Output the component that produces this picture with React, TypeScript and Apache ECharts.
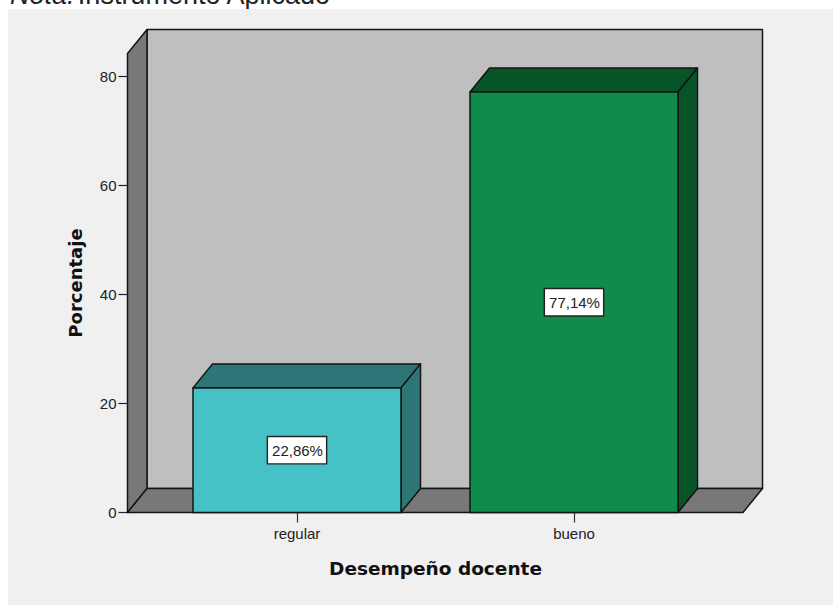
import React, { useEffect, useRef } from "react";
import * as echarts from "echarts";

const categories = ["regular", "bueno"];
const percentages = [22.86, 77.14];
const percentLabels = ["22,86%", "77,14%"];
const frontColors = ["#46c2c6", "#0f8c49"];
const shadeColors = ["#2e7578", "#075428"];
const yTicks = [0, 20, 40, 60, 80];

const DX = 19.5;
const DY = -24;
const LINE = "#141414";
const LW = 1.5;
const PAD_LEFT = 31;
const BAR_WIDTH = 208;

const poly = (points: number[][], fill: string) => ({
  type: "polygon",
  shape: { points },
  style: { fill, stroke: LINE, lineWidth: LW, lineJoin: "round" },
});

export default function App() {
  const ref = useRef<HTMLDivElement>(null);
  useEffect(() => {
    document.body.style.margin = "0";
    const chart = echarts.init(ref.current!, null, { renderer: "svg" });
    chart.setOption({
      animation: false,
      backgroundColor: "#ffffff",
      graphic: [
        {
          type: "text",
          x: 10,
          y: -19,
          z: -10,
          style: {
            text: "{i|Nota.} {r|Instrumento Aplicado}",
            rich: {
              i: { fontStyle: "italic", fontFamily: "Liberation Sans", fontSize: 27, fill: "#222" },
              r: { fontFamily: "Liberation Sans", fontSize: 27, fill: "#222" },
            },
          },
        },
        {
          type: "rect",
          z: -9,
          shape: { x: 8, y: 9, width: 825, height: 596 },
          style: { fill: "#f0f0f0" },
        },
      ],
      grid: { left: 158.5, top: 53.5, width: 554, height: 459 },
      xAxis: {
        type: "category",
        data: categories,
        axisLine: { show: false },
        axisTick: { show: true, alignWithLabel: true, length: 10, lineStyle: { color: "#333", width: 1.2 } },
        axisLabel: { color: "#222", fontFamily: "Liberation Sans", fontSize: 15, margin: 13 },
        name: "Desempeño docente",
        nameLocation: "middle",
        nameGap: 46.5,
        nameTextStyle: { fontFamily: "DejaVu Sans", fontWeight: "bold", fontSize: 18.5, color: "#111" },
      },
      yAxis: {
        type: "value",
        min: 0,
        max: 84.2,
        interval: 20,
        offset: PAD_LEFT,
        splitLine: { show: false },
        axisLine: { show: true, lineStyle: { color: LINE, width: LW } },
        axisTick: { show: true, length: 9, customValues: yTicks, lineStyle: { color: "#222", width: 1.2 } },
        axisLabel: {
          color: "#222",
          fontFamily: "Liberation Sans",
          fontSize: 15,
          margin: 11,
          customValues: yTicks,
        },
        name: "Porcentaje",
        nameLocation: "middle",
        nameGap: 43,
        nameTextStyle: { fontFamily: "DejaVu Sans", fontWeight: "bold", fontSize: 18, color: "#111" },
      },
      series: [
        {
          type: "custom",
          silent: true,
          z: 1,
          data: [0],
          clip: false,
          renderItem: (params: any) => {
            const c = params.coordSys;
            const l = c.x - PAD_LEFT;
            const r = c.x + c.width + PAD_LEFT - 0.5;
            const t = c.y;
            const b = c.y + c.height;
            return {
              type: "group",
              children: [
                poly([[l + DX, t + DY], [r + DX, t + DY], [r + DX, b + DY], [l + DX, b + DY]], "#bfbfbf"),
                poly([[l, t], [l + DX, t + DY], [l + DX, b + DY], [l, b]], "#787878"),
                poly([[l, b], [l + DX, b + DY], [r + DX, b + DY], [r, b]], "#787878"),
              ],
            };
          },
        },
        {
          type: "custom",
          silent: true,
          z: 2,
          clip: false,
          data: percentages.map((v, i) => [i, v]),
          encode: { x: 0, y: 1 },
          renderItem: (params: any, api: any) => {
            const i = api.value(0);
            const [cx, top] = api.coord([i, api.value(1)]);
            const [, base] = api.coord([i, 0]);
            const [, mid] = api.coord([i, api.value(1) / 2]);
            const x0 = cx - BAR_WIDTH / 2;
            const x1 = cx + BAR_WIDTH / 2;
            return {
              type: "group",
              children: [
                poly([[x0, top], [x1, top], [x1 + DX, top + DY], [x0 + DX, top + DY]], shadeColors[i]),
                poly([[x1, top], [x1 + DX, top + DY], [x1 + DX, base + DY], [x1, base]], shadeColors[i]),
                poly([[x0, top], [x1, top], [x1, base], [x0, base]], frontColors[i]),
                {
                  type: "text",
                  x: cx,
                  y: mid,
                  style: {
                    text: percentLabels[i],
                    align: "center",
                    verticalAlign: "middle",
                    fontFamily: "Liberation Sans",
                    fontSize: 15,
                    fill: "#222",
                    backgroundColor: "#ffffff",
                    borderColor: "#222",
                    borderWidth: 1.4,
                    padding: [6, 3, 5, 4],
                  },
                },
              ],
            };
          },
        },
      ],
    });
    return () => chart.dispose();
  }, []);
  return <div ref={ref} style={{ width: 833, height: 605 }} />;
}
